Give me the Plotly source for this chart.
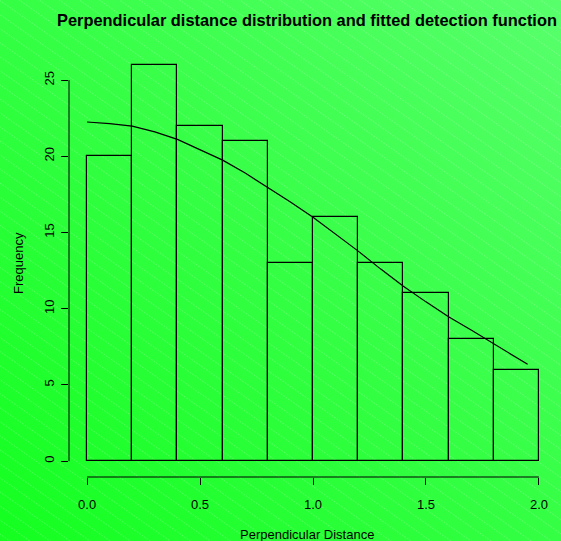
import base64
import plotly.graph_objects as go

# ---- data ----
bin_left = [0.0, 0.2, 0.4, 0.6, 0.8, 1.0, 1.2, 1.4, 1.6, 1.8]
bin_width = 0.2
counts = [20, 26, 22, 21, 13, 16, 13, 11, 8, 6]

curve_x = [0.0, 0.1, 0.2, 0.3, 0.4, 0.5, 0.6, 0.7, 0.8, 0.9, 1.0,
           1.1, 1.2, 1.3, 1.4, 1.5, 1.6, 1.7, 1.8, 1.9, 1.95]
curve_y = [22.25, 22.15, 21.98, 21.6, 21.11, 20.45, 19.75, 18.9, 17.96, 17.0, 16.0,
           14.9, 13.78, 12.6, 11.48, 10.45, 9.47, 8.6, 7.72, 6.8, 6.35]

x_ticks = [0.0, 0.5, 1.0, 1.5, 2.0]
x_tick_text = ["0.0", "0.5", "1.0", "1.5", "2.0"]
y_ticks = [0, 5, 10, 15, 20, 25]
y_tick_text = ["0", "5", "10", "15", "20", "25"]

title = "Perpendicular distance distribution and fitted detection function"
x_title = "Perpendicular Distance"
y_title = "Frequency"

# ---- layout geometry ----
W, H = 561, 541
ML, MR, MT, MB = 69, 4, 49, 64
PW, PH = W - ML - MR, H - MT - MB
xr = [-0.08, 2.08]
yr = [-1.04, 27.04]

# background: green gradient with faint white diagonal stripes
svg = f'''<svg xmlns="http://www.w3.org/2000/svg" width="{W}" height="{H}" viewBox="0 0 {W} {H}">
<defs>
<linearGradient id="g" x1="0" y1="1" x2="1" y2="0">
<stop offset="0" stop-color="#14ff20"/>
<stop offset="0.5" stop-color="#34ff44"/>
<stop offset="1" stop-color="#58ff6c"/>
</linearGradient>
<pattern id="p" width="12" height="11.5" patternUnits="userSpaceOnUse" patternTransform="rotate(35)">
<line x1="0" y1="0.5" x2="12" y2="0.5" stroke="#ffffff" stroke-opacity="0.28" stroke-width="0.8" stroke-dasharray="1.5,1.5"/>
</pattern>
</defs>
<rect width="{W}" height="{H}" fill="url(#g)"/>
<rect width="{W}" height="{H}" fill="url(#p)"/>
</svg>'''
src = "data:image/svg+xml;base64," + base64.b64encode(svg.encode()).decode()

fig = go.Figure()
fig.add_trace(go.Bar(
    x=bin_left, y=counts, width=[bin_width] * len(counts), offset=0,
    marker=dict(color="rgba(0,0,0,0)", line=dict(color="black", width=1.2)),
    hoverinfo="skip", showlegend=False,
))
fig.add_trace(go.Scatter(
    x=curve_x, y=curve_y, mode="lines",
    line=dict(color="black", width=1.2), showlegend=False, hoverinfo="skip",
))

font = dict(family="Liberation Sans, Arial, sans-serif", color="black")

fig.update_layout(
    width=W, height=H,
    margin=dict(l=ML, r=MR, t=MT, b=MB, pad=0),
    paper_bgcolor="rgba(0,0,0,0)", plot_bgcolor="rgba(0,0,0,0)",
    bargap=0,
    font=dict(size=13, **font),
    xaxis=dict(range=xr, showgrid=False, zeroline=False, showline=False,
               tickmode="array", tickvals=x_ticks, ticktext=x_tick_text,
               ticks="outside", ticklen=7, tickwidth=1, tickcolor="black",
               tickfont=dict(size=13, **font), ticklabelstandoff=8),
    yaxis=dict(range=yr, showgrid=False, zeroline=False, showline=False,
               tickmode="array", tickvals=y_ticks, ticktext=y_tick_text,
               ticks="outside", ticklen=7, tickwidth=1, tickcolor="black",
               tickangle=-90, tickfont=dict(size=13, **font), ticklabelstandoff=2),
    images=[dict(source=src, xref="paper", yref="paper",
                 x=-ML / PW, y=1 + MT / PH, sizex=W / PW, sizey=H / PH,
                 xanchor="left", yanchor="top", sizing="stretch", layer="below")],
    shapes=[
        dict(type="line", xref="x", yref="paper", x0=0, x1=2, y0=0, y1=0,
             line=dict(color="black", width=1)),
        dict(type="line", xref="paper", yref="y", x0=0, x1=0, y0=0, y1=25,
             line=dict(color="black", width=1)),
    ],
    annotations=[
        dict(text=f"<b>{title}</b>", xref="paper", yref="paper",
             x=(307 - ML) / PW, y=1 + (MT - 20) / PH, xanchor="center", yanchor="middle",
             showarrow=False, font=dict(size=16.4, **font)),
        dict(text=x_title, xref="paper", yref="paper",
             x=(307 - ML) / PW, y=-(534 - MT - PH) / PH, xanchor="center", yanchor="middle",
             showarrow=False, font=dict(size=13, **font)),
        dict(text=y_title, xref="paper", yref="paper", textangle=-90,
             x=-(ML - 18) / PW, y=1 - (263 - MT) / PH, xanchor="center", yanchor="middle",
             showarrow=False, font=dict(size=13, **font)),
    ],
)

fig.write_html("out.html")
